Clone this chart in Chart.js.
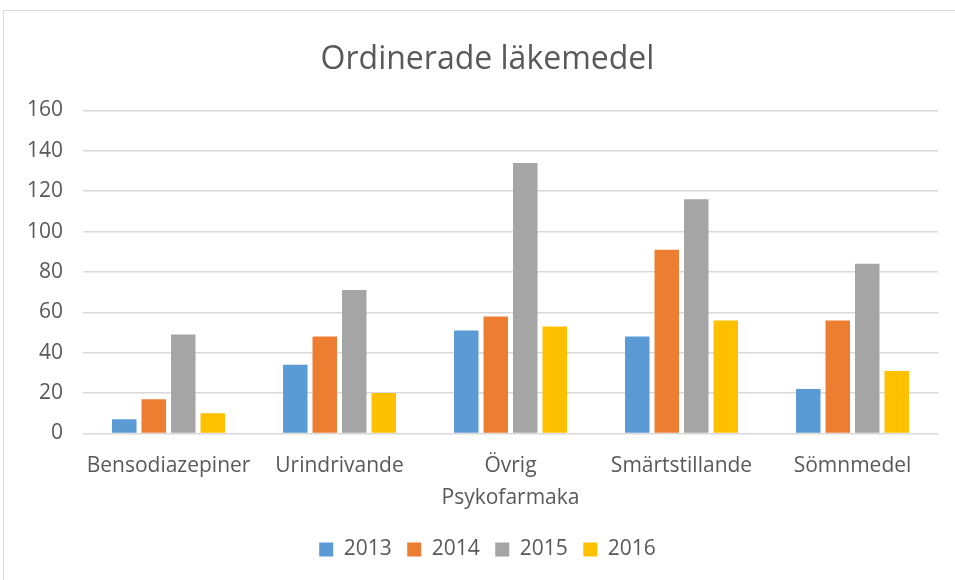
<!DOCTYPE html>
<html>
<head>
<meta charset="utf-8">
<script src="https://cdn.jsdelivr.net/npm/chart.js@4.4.0/dist/chart.umd.min.js"></script>
<style>
  body { margin: 0; background: #fff; }
  #wrap { position: absolute; left: 0; top: 0; width: 955px; height: 580px; }
  #frame { position: absolute; left: 3px; top: 10px; width: 1000px; height: 1000px;
           border: 1.5px solid #d9d9d9; pointer-events: none; }
</style>
</head>
<body>
<div id="wrap"><canvas id="chart" width="955" height="580"></canvas></div>
<div id="frame"></div>
<script>
const categories = ['Bensodiazepiner', 'Urindrivande', ['Övrig', 'Psykofarmaka'], 'Smärtstillande', 'Sömnmedel'];
const years = ['2013', '2014', '2015', '2016'];
const values2013 = [7, 34, 51, 48, 22];
const values2014 = [17, 48, 58, 91, 56];
const values2015 = [49, 71, 134, 116, 84];
const values2016 = [10, 20, 53, 56, 31];
const colors = ['#5B9BD5', '#ED7D31', '#A5A5A5', '#FFC000'];

const series = [values2013, values2014, values2015, values2016];
const textColor = '#595959';
const fontFamily = "'Open Sans', 'Noto Sans', sans-serif";

// the original chart box runs past the right edge, so title and legend sit a bit right of centre
const offsetTitle = {
    id: 'offsetTitle',
    afterLayout(chart) {
        [chart.titleBlock, chart.legend].forEach(box => {
            if (box) { box.left += 15; box.right += 15; }
        });
    }
};

new Chart(document.getElementById('chart').getContext('2d'), {
    type: 'bar',
    data: {
        labels: categories,
        datasets: series.map((vals, i) => ({
            label: years[i],
            data: vals,
            backgroundColor: colors[i],
            borderWidth: 0,
            categoryPercentage: 0.69,
            barPercentage: 0.83
        }))
    },
    plugins: [offsetTitle],
    options: {
        responsive: false,
        animation: false,
        layout: { padding: { left: 7, right: 17, top: 20, bottom: 10 } },
        plugins: {
            title: {
                display: true,
                text: 'Ordinerade läkemedel',
                color: textColor,
                font: { family: fontFamily, size: 32, weight: 'normal' },
                padding: { top: 21, bottom: 31 }
            },
            legend: {
                position: 'bottom',
                labels: {
                    color: textColor,
                    font: { family: fontFamily, size: 21 },
                    boxWidth: 14,
                    boxHeight: 14,
                    padding: 15.5
                }
            },
            tooltip: { enabled: false }
        },
        scales: {
            x: {
                grid: { display: false },
                border: { display: false },
                afterFit(scale) { scale.height += 1; },
                ticks: {
                    color: textColor,
                    font: { family: fontFamily, size: 21, lineHeight: 1.5 },
                    maxRotation: 0,
                    padding: 9
                }
            },
            y: {
                min: 0,
                max: 160,
                grid: { color: '#d9d9d9', lineWidth: 1.5, drawTicks: false },
                border: { display: false },
                ticks: {
                    stepSize: 20,
                    color: textColor,
                    font: { family: fontFamily, size: 21 },
                    padding: 20
                }
            }
        }
    }
});
</script>
</body>
</html>
